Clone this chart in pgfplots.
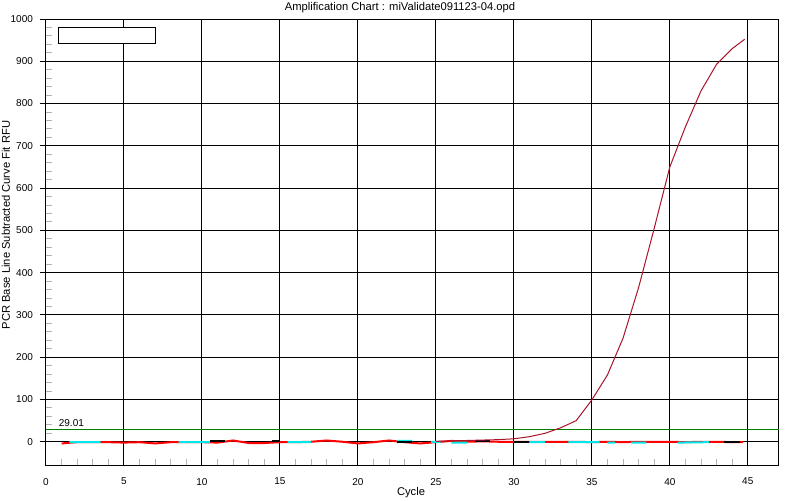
\documentclass[border=0pt]{standalone}
\usepackage{pgfplots}
\pgfplotsset{compat=1.18}
\usepackage{fontspec}
\setmainfont{Liberation Sans}
\definecolor{curvebrown}{RGB}{170,20,40}
\definecolor{thrgreen}{RGB}{0,128,0}
\definecolor{basecyan}{RGB}{0,230,230}

\begin{document}
\begin{tikzpicture}
\useasboundingbox (-23pt,-17.5pt) rectangle (377pt,232.5pt);
\begin{axis}[
  scale only axis,
  width=366.5pt, height=223pt,
  xmin=0, xmax=47, ymin=-55, ymax=1000,
  xtick={0,5,...,45}, ytick={0,100,...,1000},
  minor x tick num=4, minor y tick num=4,
  xtick pos=bottom, ytick pos=left,
  tick align=outside,
  major tick length=3pt, minor tick length=3pt,
  major x tick style={draw=none},
  major y tick style={black, line width=0.5pt},
  minor x tick style={gray!60, line width=0.5pt, yshift=3pt},
  minor y tick style={gray!60, line width=0.5pt, xshift=3pt},
  xmajorgrids, ymajorgrids,
  major grid style={black, line width=0.5pt},
  axis line style={black, line width=0.5pt},
  unbounded coords=jump,
  /pgf/number format/assume math mode=true,
  /pgf/number format/1000 sep={},
  ticklabel style={font=\fontsize{5}{6}\selectfont},
  xlabel={Cycle},
  xlabel style={at={(axis description cs:0.498,-0.063)}, anchor=center, font=\fontsize{5.6}{6}\selectfont},
  ylabel={PCR Base Line Subtracted Curve Fit RFU},
  ylabel style={at={(axis description cs:-0.0546,0.538)}, anchor=center, font=\fontsize{5.6}{6}\selectfont},
]
% empty legend box
\draw[black, line width=0.5pt, fill=white] (axis cs:0.77,943) rectangle (axis cs:7.0,979);

% threshold
\addplot[thrgreen, line width=0.6pt] coordinates {(0,29.01) (47,29.01)};
\node[anchor=base west, inner sep=0pt, font=\fontsize{5}{6}\selectfont] at (axis cs:0.8,36) {29.01};

% baseline wells
\addplot[red, line width=1pt] coordinates {
 (1,-4) (2,-1) (3,-1) (4,-1) (5,-2) (6,-1) (7,-4) (8,-1) (9,-1) (10,-1)
 (11,-2) (12,3) (13,-3) (14,-3) (15,-1) (16,-1) (17,0) (18,3) (19,0) (20,-4)
 (21,-1) (22,3) (23,-1) (24,-4) (25,-1) (26,2) (27,0) (28,1) (29,0) (30,0)
 (31,0) (32,0) (33,0) (34,0) (35,-1) (36,0) (37,-1) (38,0) (39,0) (40,0)
 (41,-1) (42,0) (43,0) (44,-1) (44.7,-1)
};
\addplot[basecyan, line width=1pt] coordinates {
 (1.5,-1) (3.5,-1) (3.6,nan)
 (8.5,-1) (10.5,-1) (10.6,nan)
 (15.5,-1) (17,-1) (17.1,nan)
 (22.5,2) (23.5,2) (23.6,nan)
 (24.7,0) (25.3,0) (25.4,nan)
 (26,-2) (27,-2) (27.1,nan)
 (31,-1) (32,-1) (32.1,nan)
 (33.5,-1) (35.5,-1) (35.6,nan)
 (36,-2) (36.5,-2) (36.6,nan)
 (37.5,-2) (38.5,-2) (38.6,nan)
 (40.5,-2) (42.5,-1)
};
\addplot[black, line width=1pt] coordinates {
 (10.5,1) (11.5,1) (11.6,nan)
 (14.5,1) (15,1) (15.1,nan)
 (22.5,0) (23.5,0) (23.6,nan)
 (27.5,1) (28.5,1) (28.6,nan)
 (30,-1) (31,-1) (31.1,nan)
 (43.5,-1) (44.5,-1)
};

% amplified well
\addplot[curvebrown, line width=0.5pt] coordinates {
 (25,1) (26,2) (27,3) (28,4) (29,5) (30,7) (31,12) (32,20) (33,33) (34,50)
 (35,99) (36,158) (37,245) (38,365) (39,505) (40,650) (41,745) (42,830)
 (43,893) (44,930) (44.8,952)
};
\end{axis}
\node[font=\fontsize{5.6}{6}\selectfont, inner sep=0pt] at (177pt,228.5pt) {Amplification Chart : miValidate091123-04.opd};
\end{tikzpicture}
\end{document}
